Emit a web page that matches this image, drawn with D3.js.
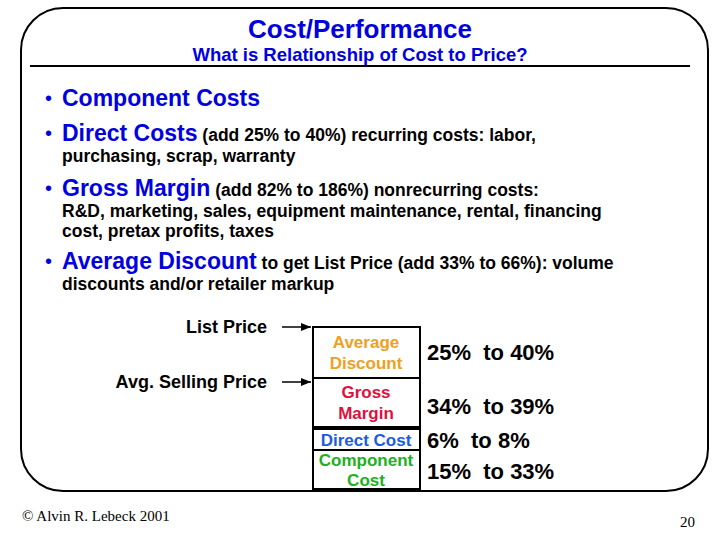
<!DOCTYPE html>
<html><head><meta charset="utf-8">
<script src="https://cdn.jsdelivr.net/npm/d3@7"></script>
<style>body{margin:0;background:#fff}</style></head>
<body><svg id="s" width="720" height="540"></svg>
<script>
const title = "Cost/Performance";
const subtitle = "What is Relationship of Cost to Price?";
const bullets = [
  { head: "Component Costs", tail: "", lines: [] },
  { head: "Direct Costs", tail: " (add 25% to 40%) recurring costs: labor,", lines: ["purchasing, scrap, warranty"] },
  { head: "Gross Margin", tail: " (add 82% to 186%) nonrecurring costs:", lines: ["R&D, marketing, sales, equipment maintenance, rental, financing", "cost, pretax profits, taxes"] },
  { head: "Average Discount", tail: " to get List Price (add 33% to 66%): volume", lines: ["discounts and/or retailer markup"] }
];
const bulletY = [99, 134, 189, 262];
const boxLabels = [["Average", "Discount"], ["Gross", "Margin"], ["Direct Cost"], ["Component", "Cost"]];
const boxColors = ["#f0a020", "#e0103c", "#1c5ce0", "#20b020"];
const boxTop = [327, 378, 429, 450];
const boxBottom = [378, 427, 450, 489];
const ranges = ["25% to 40%", "34% to 39%", "6% to 8%", "15% to 33%"];
const rangeY = [360, 414, 448, 479];
const arrows = [["List Price", 327], ["Avg. Selling Price", 382]];

const svg = d3.select("#s");
const F = "Liberation Sans, Arial, sans-serif";
svg.append("rect").attr("x", 21).attr("y", 8).attr("width", 687).attr("height", 483)
  .attr("rx", 42).attr("fill", "none").attr("stroke", "#000").attr("stroke-width", 2);
svg.append("line").attr("x1", 30).attr("x2", 690).attr("y1", 66).attr("y2", 66).attr("stroke", "#000").attr("stroke-width", 2);
svg.append("text").attr("x", 360).attr("y", 38).attr("text-anchor", "middle").attr("font-family", F)
  .attr("font-size", 26).attr("font-weight", "bold").attr("fill", "#0000e0").text(title);
svg.append("text").attr("x", 360).attr("y", 61).attr("text-anchor", "middle").attr("font-family", F)
  .attr("font-size", 18.5).attr("font-weight", "bold").attr("fill", "#0000e0").text(subtitle);

bullets.forEach((b, i) => {
  const y = bulletY[i];
  svg.append("text").attr("x", 45).attr("y", y + 6).attr("font-family", F).attr("font-size", 20).attr("fill", "#0000e0").text("•");
  const t = svg.append("text").attr("x", 62).attr("y", y + 7).attr("font-family", F).attr("font-weight", "bold");
  t.append("tspan").attr("font-size", 23).attr("fill", "#0000e0").text(b.head);
  t.append("tspan").attr("font-size", 17.5).attr("fill", "#000").text(b.tail);
  b.lines.forEach((l, j) => svg.append("text").attr("x", 62).attr("y", y + 28 + j * 20).attr("font-family", F)
    .attr("font-weight", "bold").attr("font-size", 17.5).text(l));
});

svg.append("defs").append("marker").attr("id", "ar").attr("viewBox", "0 0 10 10").attr("refX", 10).attr("refY", 5)
  .attr("markerWidth", 7).attr("markerHeight", 7).attr("orient", "auto")
  .append("path").attr("d", "M0,1L10,5L0,9z");
arrows.forEach(([lab, y]) => {
  svg.append("text").attr("x", 267).attr("y", y + 6).attr("text-anchor", "end").attr("font-family", F)
    .attr("font-weight", "bold").attr("font-size", 18).text(lab);
  svg.append("line").attr("x1", 282).attr("x2", 311).attr("y1", y).attr("y2", y).attr("stroke", "#000")
    .attr("stroke-width", 1.5).attr("marker-end", "url(#ar)");
});

boxLabels.forEach((ls, i) => {
  svg.append("rect").attr("x", 313).attr("y", boxTop[i]).attr("width", 107).attr("height", boxBottom[i] - boxTop[i])
    .attr("fill", "none").attr("stroke", "#000").attr("stroke-width", 2);
  const n = ls.length, mid = (boxTop[i] + boxBottom[i]) / 2;
  const lh = i >= 2 ? 20 : 21;
  ls.forEach((l, j) => svg.append("text").attr("x", 366).attr("y", mid + (j - (n - 1) / 2) * lh + 6)
    .attr("text-anchor", "middle").attr("font-family", F).attr("font-weight", "bold").attr("font-size", 17)
    .attr("fill", boxColors[i]).text(l));
  svg.append("text").attr("x", 427).attr("y", rangeY[i]).attr("font-family", F).attr("font-weight", "bold")
    .attr("font-size", 22).attr("xml:space", "preserve").text(ranges[i].replace(" to ", "  to "));
});

svg.append("text").attr("x", 22).attr("y", 521).attr("font-family", "Liberation Serif, serif").attr("font-size", 15).text("© Alvin R. Lebeck 2001");
svg.append("text").attr("x", 695).attr("y", 527).attr("text-anchor", "end").attr("font-family", "Liberation Serif, serif").attr("font-size", 15).text("20");
</script></body></html>
